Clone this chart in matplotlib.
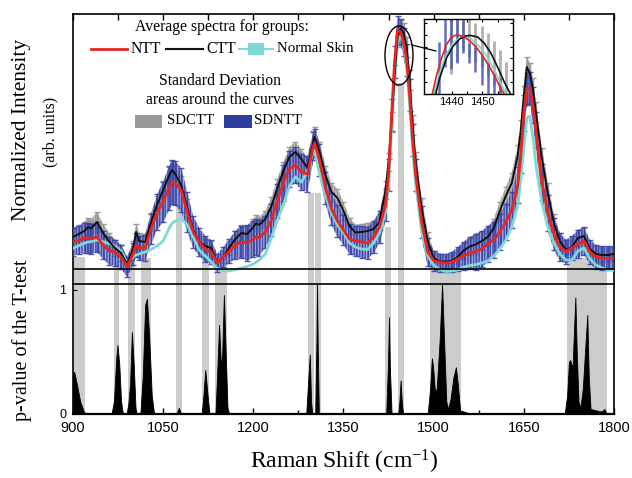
import numpy as np
import matplotlib
matplotlib.use('Agg')
import matplotlib.pyplot as plt
from matplotlib.patches import Ellipse, Rectangle
from matplotlib.lines import Line2D

# ---------------- data ----------------
wn = [900, 910, 920, 925, 930, 940, 950, 960, 970, 980,
      990, 1000, 1005, 1010, 1020, 1030, 1040, 1050, 1060, 1065,
      1070, 1080, 1090, 1100, 1110, 1120, 1130, 1140, 1150, 1160,
      1170, 1180, 1190, 1200, 1205, 1210, 1220, 1230, 1240, 1250,
      1260, 1270, 1280, 1290, 1300, 1302, 1310, 1320, 1330, 1340,
      1350, 1360, 1370, 1380, 1390, 1400, 1410, 1420, 1425, 1430,
      1435, 1440, 1445, 1450, 1455, 1460, 1465, 1470, 1480, 1490,
      1500, 1510, 1520, 1530, 1540, 1550, 1560, 1570, 1580, 1590,
      1600, 1610, 1620, 1630, 1640, 1645, 1650, 1655, 1660, 1665,
      1670, 1680, 1690, 1700, 1710, 1720, 1730, 1740, 1750, 1760,
      1770, 1780, 1790, 1800]

ctt = [32, 35, 38.5, 42, 40.5, 47, 36, 27.5, 21, 16,
       5, 20, 37, 28, 27, 47, 64.5, 79, 93.5, 99,
       95, 84, 61, 39, 27, 23, 21, 6, 12, 21.5,
       30, 36, 35, 42, 45.7, 44, 50, 63, 81, 98,
       112, 117, 110, 101, 128, 132, 117.5, 94, 77, 71,
       58, 43, 36.5, 37, 38, 40, 47, 79, 107, 147,
       194, 232, 240.5, 236, 222, 189, 144, 107, 61, 28,
       11, 7.5, 7.5, 8, 12, 18.5, 22.5, 24.5, 28, 32,
       41, 58, 73, 86, 114, 139, 173, 202, 196, 181,
       157, 111, 76, 46, 28, 19, 22, 31, 33, 20,
       15, 14, 14, 15]

ntt = [27.3, 29, 31.5, 31, 30, 32, 24, 18.5, 16.5, 12,
       2.3, 15, 24, 21, 21, 40, 57, 67, 81, 87,
       86, 79, 57, 37, 27, 20, 17, 6, 12, 18,
       24, 27, 26, 30, 32, 31.5, 37, 49, 68, 86,
       100, 104, 97, 95, 123, 126, 109, 81, 60, 48,
       39, 30, 28, 27, 26, 32, 42, 64, 94, 154,
       207, 239, 237, 227, 209, 174, 129, 94, 47, 17,
       8.5, 6.5, 6, 7, 10, 13.5, 16, 17.5, 20, 25,
       29.5, 37, 47, 59, 84, 114, 156, 180, 181, 164,
       139, 87, 56, 35, 22, 17.5, 21, 25, 28, 17,
       12, 10.7, 10.7, 10.7]

normal = [20.7, 23.5, 26, 27, 27.5, 29, 27.3, 25.5, 23, 18,
          6, 12, 14, 15, 17, 19.5, 23, 28, 41, 46,
          48, 50.5, 44, 32, 19, 13, 7, 0.5, -1.5, -2,
          -0.5, 1, 2.5, 5, 7, 9, 15, 31, 49, 64,
          83, 92, 87, 97, 119, 118, 96, 73, 56, 44,
          36.5, 26, 22, 20, 19.5, 26, 36, 57, 84, 139,
          194, 227, 233, 227, 204, 164, 119, 86, 37, 13,
          4, -0.5, -2.5, -2, -1, 2, 3.5, 4.5, 6, 8,
          13, 20, 29, 42, 64, 89, 121, 151, 153, 132,
          104, 66, 42, 26, 15, 9, 9, 18, 21, 10,
          4, 1, -1, -1]

sd_ctt = [9, 9, 9, 9, 9, 10, 9, 9, 8, 8,
          7, 8, 8, 8, 8, 9, 9, 9, 9, 9,
          9, 9, 9, 8, 8, 7, 7, 6, 6, 7,
          8, 8, 8, 8, 8, 8, 8, 9, 9, 9,
          10, 10, 10, 10, 10, 10, 10, 9, 9, 9,
          9, 8, 8, 8, 8, 8, 8, 9, 9, 10,
          10, 10, 9, 10, 10, 10, 10, 10, 10, 9,
          7, 6, 6, 6, 7, 8, 8, 9, 9, 9,
          9, 9, 9, 10, 10, 10, 10, 10, 10, 10,
          10, 10, 10, 9, 8, 7, 7, 8, 8, 7,
          7, 7, 7, 7]

sd_ntt = [14, 14, 15, 15, 15, 15, 14, 14, 13, 12,
          10, 11, 12, 12, 13, 15, 18, 20, 22, 22,
          22, 22, 20, 16, 14, 13, 12, 9, 10, 12,
          14, 16, 18, 18, 18, 18, 16, 16, 17, 18,
          18, 18, 18, 18, 14, 14, 16, 16, 16, 16,
          15, 15, 15, 16, 16, 16, 16, 16, 16, 16,
          16, 14, 13, 14, 16, 16, 16, 16, 16, 14,
          10, 9, 9, 10, 12, 14, 16, 18, 18, 18,
          18, 18, 18, 18, 18, 18, 18, 16, 16, 18,
          18, 18, 18, 16, 14, 12, 12, 14, 14, 12,
          12, 12, 12, 12]

# significant regions (grey bands): start, end, visible top in upper panel
band_lo = [900, 968, 991.5, 1013, 1071, 1114.6, 1137, 1291, 1302.6, 1419, 1440, 1494, 1722]
band_hi = [920, 977, 1002.6, 1029, 1082, 1127, 1157, 1301, 1312, 1429, 1451, 1545, 1788]
band_top = [12, 7, 6, 11, 63, 12, 4, 76, 76, 42, 186, 0, 11]

# p-value trace
p_w = [900, 902, 906, 912, 918, 922,
       964, 968, 972, 974, 977, 980, 983,
       989, 992, 995, 998, 1001, 1004, 1006,
       1012, 1016, 1020, 1023, 1027, 1031, 1035,
       1072, 1076, 1080,
       1114, 1117, 1120, 1123, 1127,
       1137, 1140, 1143, 1146, 1148, 1151, 1154, 1157, 1160,
       1288, 1291, 1294, 1296, 1298,
       1303, 1305, 1306, 1307, 1309,
       1421, 1424, 1425.7, 1427, 1430,
       1441, 1443, 1445, 1447, 1449,
       1490, 1494, 1497, 1499, 1502, 1505, 1510, 1514, 1518, 1521, 1524,
       1528, 1533, 1537, 1540, 1544, 1550, 1556, 1560,
       1718, 1722, 1725, 1727, 1729, 1731, 1735.7, 1738, 1741, 1744, 1748,
       1753, 1755.6, 1758, 1761, 1770, 1778, 1782, 1784, 1787, 1790, 1800]
p_v = [0.30, 0.34, 0.25, 0.10, 0.02, 0,
       0, 0.10, 0.45, 0.556, 0.40, 0.10, 0,
       0, 0.08, 0.25, 0.66, 0.40, 0.05, 0,
       0, 0.30, 0.88, 0.93, 0.60, 0.15, 0,
       0, 0.05, 0,
       0, 0.15, 0.355, 0.20, 0,
       0, 0.35, 0.72, 0.40, 0.45, 0.96, 0.50, 0.05, 0,
       0, 0.25, 0.48, 0.10, 0,
       0, 0.60, 1.05, 0.60, 0,
       0, 0.40, 0.78, 0.40, 0,
       0, 0.10, 0.27, 0.10, 0,
       0, 0.20, 0.45, 0.38, 0.19, 0.20, 0.60, 1.05, 0.50, 0.10, 0.04,
       0.12, 0.30, 0.377, 0.25, 0.03, 0.02, 0.01, 0,
       0, 0.15, 0.42, 0.435, 0.40, 0.38, 0.94, 0.50, 0.10, 0.05, 0.20,
       0.60, 0.80, 0.30, 0.04, 0.03, 0.02, 0.03, 0.04, 0.01, 0, 0]

# inset (zoom of the 1445 peak)
in_ntt_w = [1433.7, 1435.1, 1436.7, 1438.3, 1439.9, 1441.7, 1443.7, 1445.8, 1448.0, 1450.1, 1452.3, 1454.4, 1456.0, 1457.1]
in_ntt_v = [0, 19, 35.7, 49, 56.7, 59, 57.3, 53.3, 46.7, 38, 27.3, 15.7, 5.7, 0]
in_ctt_w = [1434.8, 1436.1, 1438.3, 1440.4, 1442.6, 1444.7, 1446.3, 1448.5, 1450.6, 1452.8, 1454.9, 1457.1, 1459.2]
in_ctt_v = [0, 15.7, 35.7, 47.3, 54.7, 58, 58.3, 56.7, 50.7, 40.7, 27.3, 12.3, 0]
in_nor_w = [1434.2, 1436.1, 1438.3, 1440.4, 1442.6, 1444.2, 1446.3, 1449.0, 1451.2, 1453.3, 1455.5, 1457.6]
in_nor_v = [0, 20.7, 39, 50.7, 56.3, 57.3, 55, 47.3, 39, 27.3, 14, 0]
in_bn_w = [1435.8, 1437.7, 1439.7, 1441.7, 1443.7, 1445.6, 1447.7, 1449.9, 1452.0, 1453.9, 1455.8]
in_bn_lo = [0, 27.3, 25, 30.7, 40.7, 30.7, 22.3, 9, 0, 0, 0]
in_bn_hi = [51.3, 76, 76, 76, 74, 50.7, 47.3, 39, 30.7, 20.7, 15.7]
in_bc_w = [1439.7, 1441.7, 1443.7, 1445.6, 1447.7, 1449.9, 1451.7, 1453.9, 1455.8, 1457.8]
in_bc_lo = [20, 32.3, 44, 37.3, 32.3, 27.3, 17.3, 9, 0, 0]
in_bc_hi = [76, 76, 76, 76, 70.7, 67.3, 60.7, 52.3, 44, 32.3]

xticks_major = [900, 1050, 1200, 1350, 1500, 1650, 1800]

# ---------------- style ----------------
plt.rcParams['font.family'] = ['Liberation Serif', 'DejaVu Serif']
plt.rcParams['mathtext.fontset'] = 'custom'
plt.rcParams['mathtext.rm'] = 'Liberation Serif'
plt.rcParams['mathtext.it'] = 'Liberation Serif:italic'
plt.rcParams['hatch.linewidth'] = 1.1

RED = '#e8261e'
CYAN = '#7fd8d2'
GREY_BAR = '#999999'
BLUE_BAR = '#3442a8'
BAND = '#cccccc'

PW, PH = 632, 478
fig = plt.figure(figsize=(PW / 100, PH / 100), dpi=100)


def fx(x):
    return x / PW


def fy(y):
    return 1 - y / PH


ax1 = fig.add_axes([fx(73), fy(284), fx(614) - fx(73), fy(14) - fy(284)])
ax2 = fig.add_axes([fx(73), fy(414), fx(614) - fx(73), fy(284) - fy(414)])

w = np.array(wn)
c = np.array(ctt)
n = np.array(ntt)
s = np.array(normal)
sc = np.array(sd_ctt)
sn = np.array(sd_ntt)

# ---- upper panel ----
ax1.set_xlim(900, 1800)
ax1.set_ylim(-15, 255)
for lo, hi, top in zip(band_lo, band_hi, band_top):
    ax1.fill_between([lo, hi], -15, top, color=BAND, lw=0, zorder=1)

# CTT standard deviation area (grey, dense vertical bars)
ax1.fill_between(w, c - sc, c + sc, facecolor='#c4c4c4', edgecolor='#9a9a9a',
                 hatch='||||||', lw=0, zorder=2)
ax1.errorbar(w, c, yerr=sc, fmt='none', ecolor=GREY_BAR, elinewidth=1.0,
             capsize=2.2, capthick=1.0, zorder=2)
# NTT standard deviation area (blue, dense vertical bars)
ax1.fill_between(w, n - sn, n + sn, facecolor=(0.45, 0.45, 0.78, 0.55),
                 edgecolor=(0.2, 0.25, 0.65, 0.85), hatch='||||||', lw=0, zorder=3)
ax1.errorbar(w, n, yerr=sn, fmt='none', ecolor=BLUE_BAR, elinewidth=1.0,
             capsize=2.0, capthick=1.0, alpha=0.85, zorder=3)

ax1.plot(w, s, color=CYAN, lw=2.0, zorder=4)
ax1.plot(w, c, color='#111111', lw=1.4, zorder=5)
ax1.plot(w, n, color=RED, lw=2.0, zorder=6)
ax1.axhline(0, color='k', lw=1.2, zorder=8)

ax1.add_patch(Ellipse((1442.3, 213.5), 46.6, 59, fill=False, ec='k', lw=1.0, zorder=9))

ax1.set_xticks(np.arange(900, 1801, 75))
ax1.tick_params(axis='x', top=True, bottom=False, labelbottom=False,
                direction='in', length=4, width=1)
ax1.set_yticks([])
ax1.spines['bottom'].set_visible(False)
for sp in ['top', 'left', 'right']:
    ax1.spines[sp].set_linewidth(1.2)

# ---- lower panel ----
ax2.set_xlim(900, 1800)
ax2.set_ylim(0, 1.048)
for lo, hi in zip(band_lo, band_hi):
    ax2.axvspan(lo, hi, color=BAND, lw=0, zorder=0)
ax2.fill_between(p_w, 0, p_v, color='k', lw=0.6, zorder=2)
ax2.set_xticks(xticks_major)
ax2.set_xticks(np.arange(975, 1800, 150), minor=True)
ax2.set_xticklabels([str(t) for t in xticks_major], fontfamily='Liberation Sans', fontsize=10.5)
ax2.tick_params(axis='x', which='major', direction='in', length=4, width=1, pad=5)
ax2.tick_params(axis='x', which='minor', direction='in', length=3, width=1)
ax2.set_yticks([0, 1])
ax2.set_yticklabels(['0', '1'], fontfamily='Liberation Sans', fontsize=9)
ax2.tick_params(axis='y', direction='in', length=3, pad=5)
for sp in ax2.spines.values():
    sp.set_linewidth(1.2)
ax2.spines['bottom'].set_linewidth(1.6)

# ---- inset ----
axin = fig.add_axes([fx(424), fy(94), fx(513) - fx(424), fy(19) - fy(94)], zorder=10)
axin.set_xlim(1431, 1460)
axin.set_ylim(0, 74.7)
axin.vlines(in_bc_w, in_bc_lo, in_bc_hi, color='#a8a8a8', lw=2.0, alpha=0.9)
axin.vlines(in_bn_w, in_bn_lo, in_bn_hi, color='#4a55b5', lw=1.8, alpha=0.85)
axin.plot(in_nor_w, in_nor_v, color=CYAN, lw=1.3)
axin.plot(in_ctt_w, in_ctt_v, color='#111111', lw=1.2)
axin.plot(in_ntt_w, in_ntt_v, color=RED, lw=1.2)
axin.set_xticks([1440, 1450])
axin.set_xticks([1435, 1445, 1455], minor=True)
axin.set_xticklabels(['1440', '1450'], fontfamily='Liberation Sans', fontsize=8)
axin.set_yticks([12.3, 24, 35.7, 47.3, 59, 70.7])
axin.set_yticklabels([])
axin.tick_params(which='both', direction='in', length=2.5, width=0.8, top=True,
                 right=True, pad=2)
for sp in axin.spines.values():
    sp.set_linewidth(1.0)

fig.add_artist(Line2D([fx(412), fx(436)], [fy(45), fy(51)], color='k', lw=0.9, zorder=20))

# ---- legend (drawn by hand) ----
fs_leg = 11.3
fig.text(fx(222), fy(27), 'Average spectra for groups:', ha='center', va='center', fontsize=fs_leg)
fig.add_artist(Line2D([fx(91), fx(127)], [fy(49), fy(49)], color=RED, lw=2.0))
fig.text(fx(131), fy(49), 'NTT', ha='left', va='center', fontsize=fs_leg)
fig.add_artist(Line2D([fx(166), fx(203)], [fy(49), fy(49)], color='#111111', lw=1.5))
fig.text(fx(206), fy(49), 'CTT', ha='left', va='center', fontsize=fs_leg)
fig.add_artist(Line2D([fx(239), fx(273)], [fy(49), fy(49)], color=CYAN, lw=1.5))
fig.add_artist(Rectangle((fx(248), fy(55)), fx(264) - fx(248), fy(43) - fy(55),
                         transform=fig.transFigure, color=CYAN, lw=0))
fig.text(fx(277), fy(49), 'Normal Skin', ha='left', va='center', fontsize=10.7)
fig.text(fx(220), fy(81), 'Standard Deviation', ha='center', va='center', fontsize=fs_leg)
fig.text(fx(220), fy(100), 'areas around the curves', ha='center', va='center', fontsize=fs_leg)
fig.add_artist(Rectangle((fx(135), fy(128)), fx(162) - fx(135), fy(115) - fy(128),
                         transform=fig.transFigure, color='#999999', lw=0))
fig.text(fx(167), fy(120), 'SDCTT', ha='left', va='center', fontsize=10.7)
fig.add_artist(Rectangle((fx(224), fy(128)), fx(252) - fx(224), fy(115) - fy(128),
                         transform=fig.transFigure, color='#2f3e9e', lw=0))
fig.text(fx(254), fy(120), 'SDNTT', ha='left', va='center', fontsize=10.7)

# ---- axis titles ----
fig.text(fx(344), fy(462), r'Raman Shift (cm$^{\mathrm{-1}}$)', ha='center', va='center', fontsize=17)
fig.text(fx(22), fy(130), 'Normalized Intensity', rotation=90, ha='center', va='center', fontsize=15.5)
fig.text(fx(50), fy(132), '(arb. units)', rotation=90, ha='center', va='center', fontsize=11.5)
fig.text(fx(22), fy(340), 'p-value of the T-test', rotation=90, ha='center', va='center', fontsize=14.5)

fig.savefig('out.png', dpi=100)
